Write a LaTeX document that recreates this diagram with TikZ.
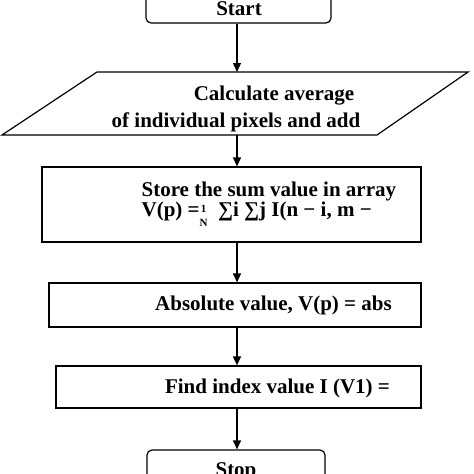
\documentclass[tikz,border=0pt]{standalone}
\usepackage{fontspec}
\setmainfont{Liberation Serif}
\usetikzlibrary{arrows.meta}

\tikzset{
  box/.style={draw,line width=1.2pt,inner sep=0pt,minimum width=#1},
  startstop/.style={box=#1,rounded corners=5pt,minimum height=40pt},
  txt/.style={font=\fontsize{21}{24}\selectfont\bfseries,inner sep=0pt}
}

\begin{document}
\begin{tikzpicture}[x=1pt,y=-1pt,>={Triangle[length=9pt,width=8pt]},line width=1.2pt]
	 \useasboundingbox(0,0)rectangle(474,474);
	 \clip(0,0)rectangle(474,474);
	 \coordinate(ax)at(237,0);
	 % boxes
	 \node[startstop=185pt](start)at(238.5,3){};
	 \coordinate(pbl)at(2,135);\coordinate(pbr)at(377,135);
	 \coordinate(ptr)at(468,72);\coordinate(ptl)at(97,72);
	 \draw(pbl)--(pbr)--(ptr)--(ptl)--cycle;
	 \coordinate(ptop)at(237,72);\coordinate(pbot)at(237,135);
	 \node[box=379pt,minimum height=75pt](store)at(231.5,204.5){};
	 \node[box=372pt,minimum height=44pt](absval)at(235,305){};
	 \node[box=365pt,minimum height=42pt](findidx)at(238.5,387){};
	 \node[startstop=178pt](stop)at(236,470){};
	 % texts
	 \node[txt](tstart)at(239,9){Start};
	 \node[txt](tcalc)at(274,96){Calculate average};
	 \node[txt](tpix)at(236,122){of individual pixels and add};
	 \node[txt,anchor=west](tstore)at(141,191){Store the sum value in array};
	 \node[txt,anchor=west](tsum)at(141,216){V(p) =\raisebox{-4pt}{\fontsize{11}{11}\selectfont\begin{tabular}{@{}c@{}}1\\[3pt]N\end{tabular}}\ \ ∑i ∑j I(n − i, m −};
	 \node[txt](tabs)at(273.5,305){Absolute value, V(p) = abs};
	 \node[txt](tfind)at(277.5,388){Find index value I (V1) =};
	 \node[txt](tstop)at(236,472){Stop};
	 % arrows
	 \draw[->](ax|-start.south)--(ptop);
	 \draw[->](pbot)--(ax|-store.north);
	 \draw[->](ax|-store.south)--(ax|-absval.north);
	 \draw[->](ax|-absval.south)--(ax|-findidx.north);
	 \draw[->](ax|-findidx.south)--(ax|-stop.north);
\end{tikzpicture}
\end{document}
